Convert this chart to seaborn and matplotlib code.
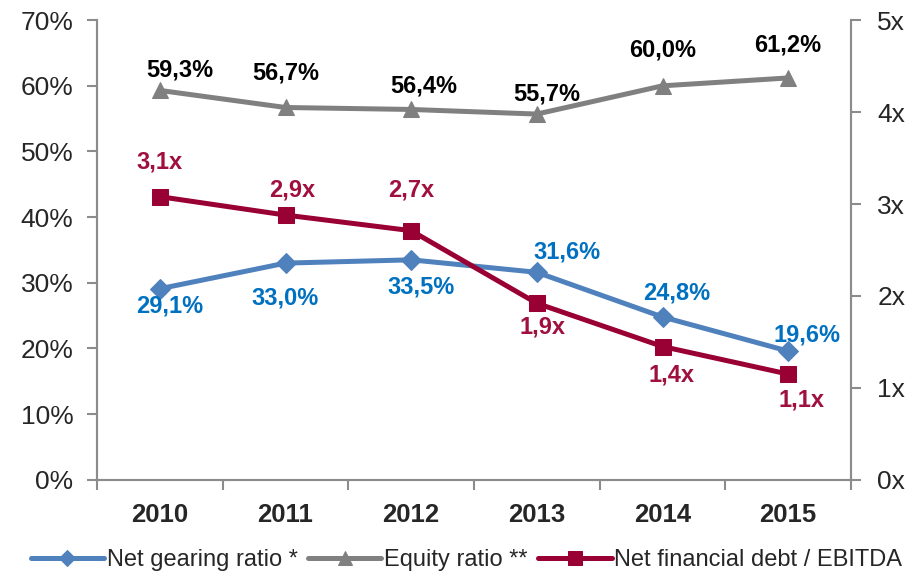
import numpy as np
import pandas as pd
import seaborn as sns
import matplotlib.pyplot as plt
from matplotlib.ticker import FixedLocator

years = ["2010", "2011", "2012", "2013", "2014", "2015"]
gearing = [29.1, 33.0, 33.5, 31.6, 24.8, 19.6]
equity = [59.3, 56.7, 56.4, 55.7, 60.0, 61.2]
nfd_ebitda = [3.08, 2.88, 2.71, 1.92, 1.45, 1.15]

gearingLabels = ["29,1%", "33,0%", "33,5%", "31,6%", "24,8%", "19,6%"]
equityLabels = ["59,3%", "56,7%", "56,4%", "55,7%", "60,0%", "61,2%"]
nfdLabels = ["3,1x", "2,9x", "2,7x", "1,9x", "1,4x", "1,1x"]

leftTicks = [0, 10, 20, 30, 40, 50, 60, 70]
rightTicks = [0, 1, 2, 3, 4, 5]

# label offsets in pixels (dx right, dy down)
gearingOff = [(10, 17), (0, 35), (10, 27), (30, -20), (14, -24), (19, -16)]
equityOff = [(20, -20), (0, -34), (13, -23), (10, -20), (0, -36), (0, -33)]
nfdOff = [(0, -35), (7, -25), (0, -41), (6, 24), (9, 28), (13, 26)]

blue = "#4F81BD"
blueText = "#0070C0"
gray = "#808080"
red = "#990033"
redText = "#A0103F"
axisGray = "#8C8C8C"

sns.set_style("white")
plt.rcParams['font.family'] = ['Liberation Sans', 'DejaVu Sans']

df = pd.DataFrame({"year": years, "gearing": gearing, "equity": equity, "nfd": nfd_ebitda})

fig, ax = plt.subplots(figsize=(9.24, 5.76), dpi=100)
fig.subplots_adjust(left=0.105, right=0.921, top=0.965, bottom=0.167)
ax2 = ax.twinx()

sns.lineplot(data=df, x="year", y="gearing", ax=ax, color=blue, lw=3.6, marker="D",
             markersize=10, markeredgecolor=blue, label="Net gearing ratio *", legend=False)
sns.lineplot(data=df, x="year", y="equity", ax=ax, color=gray, lw=3.6, marker="^",
             markersize=12, markeredgecolor=gray, label="Equity ratio **", legend=False)
sns.lineplot(data=df, x="year", y="nfd", ax=ax2, color=red, lw=3.6, marker="s",
             markersize=12, markeredgecolor=red, label="Net financial debt / EBITDA", legend=False)

def addLabels(axis, vals, labels, offs, color):
    for i, (v, t, o) in enumerate(zip(vals, labels, offs)):
        axis.annotate(t, (i, v), xytext=(o[0] * 0.72, -o[1] * 0.72), textcoords="offset points",
                      ha="center", va="center", fontsize=17, fontweight="bold", color=color)

addLabels(ax, gearing, gearingLabels, gearingOff, blueText)
addLabels(ax, equity, equityLabels, equityOff, "black")
addLabels(ax2, nfd_ebitda, nfdLabels, nfdOff, redText)

ax.set_xlim(-0.5, 5.5)
ax.set_ylim(0, 70)
ax2.set_ylim(0, 5)
ax.set_yticks(leftTicks)
ax.set_yticklabels([f"{t}%" for t in leftTicks])
ax2.set_yticks(rightTicks)
ax2.set_yticklabels([f"{t}x" for t in rightTicks])
ax.set_xticks(range(len(years)))
ax.set_xticklabels(years, fontweight="bold")
ax.xaxis.set_minor_locator(FixedLocator(np.arange(-0.5, 6.0, 1.0)))
ax.set_xlabel("")
ax.set_ylabel("")
ax2.set_ylabel("")

for a in (ax, ax2):
    for s in a.spines.values():
        s.set_color(axisGray)
        s.set_linewidth(1.5)
    a.spines["top"].set_visible(False)
    a.grid(False)

ax.tick_params(axis="y", which="major", length=7, width=1.5, color=axisGray, labelsize=19, pad=10)
ax2.tick_params(axis="y", which="major", length=7, width=1.5, color=axisGray, labelsize=19, pad=12)
ax.tick_params(axis="x", which="major", length=0, labelsize=18.5, pad=17)
ax.tick_params(axis="x", which="minor", length=7, width=1.5, color=axisGray, bottom=True)

h1, l1 = ax.get_legend_handles_labels()
h2, l2 = ax2.get_legend_handles_labels()
fig.legend(h1 + h2, l1 + l2, loc="lower center", ncol=3, frameon=False, fontsize=17,
           bbox_to_anchor=(0.505, -0.028), handlelength=3.1, handletextpad=0.12, columnspacing=0.45,
           markerscale=0.8)

fig.savefig("out.png", dpi=100)
